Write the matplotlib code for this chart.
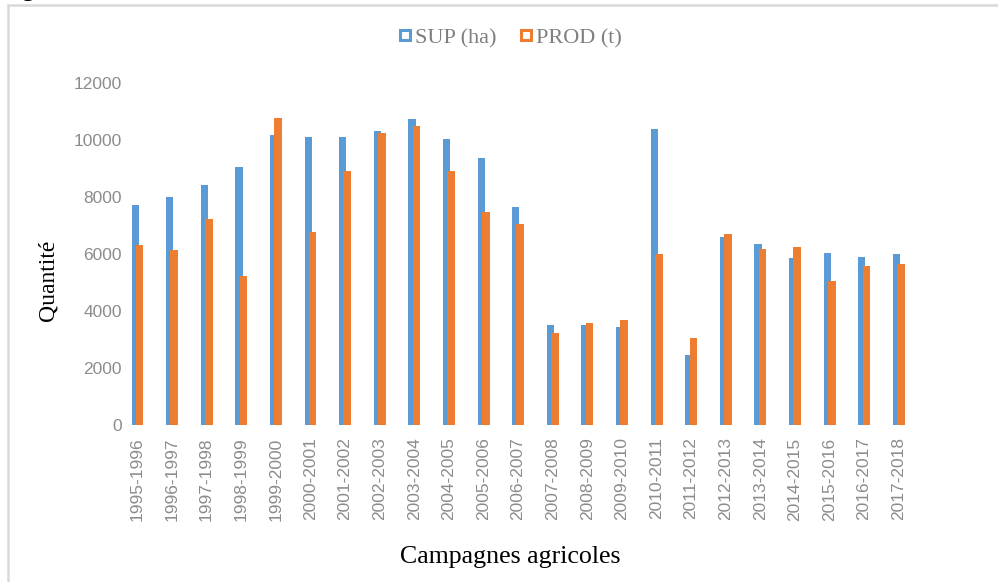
import numpy as np
import matplotlib
matplotlib.use("Agg")
import matplotlib.pyplot as plt
from matplotlib.lines import Line2D
from matplotlib.patches import Rectangle

campagnes = ["1995-1996", "1996-1997", "1997-1998", "1998-1999", "1999-2000",
             "2000-2001", "2001-2002", "2002-2003", "2003-2004", "2004-2005",
             "2005-2006", "2006-2007", "2007-2008", "2008-2009", "2009-2010",
             "2010-2011", "2011-2012", "2012-2013", "2013-2014", "2014-2015",
             "2015-2016", "2016-2017", "2017-2018"]
sup_ha = [7710, 7990, 8440, 9050, 10170, 10100, 10100, 10320, 10740, 10030,
          9390, 7650, 3500, 3500, 3430, 10400, 2450, 6590, 6370, 5880,
          6030, 5910, 5990]
prod_t = [6320, 6130, 7220, 5230, 10780, 6780, 8930, 10250, 10490, 8930,
          7490, 7050, 3230, 3580, 3690, 5990, 3040, 6710, 6180, 6250,
          5050, 5570, 5650]
yticks = [0, 2000, 4000, 6000, 8000, 10000, 12000]

BLUE = "#5B9BD5"
ORANGE = "#ED7D31"
GREY = "#8C8C8C"

W, H = 998, 582
fig = plt.figure(figsize=(W / 100, H / 100), dpi=100)

# axes placed in pixel terms (Excel-like layout)
left_px, right_px = 130, 916
bottom_px, top_px = 425, 83.3
ax = fig.add_axes([left_px / W, 1 - bottom_px / H,
                   (right_px - left_px) / W, (bottom_px - top_px) / H])

x = np.arange(len(campagnes))
ax.bar(x - 0.065, sup_ha, width=0.21, color=BLUE, zorder=2)
ax.bar(x + 0.065, prod_t, width=0.22, color=ORANGE, zorder=3)

ax.set_xlim(-0.214, 22.5)
ax.set_ylim(0, 12000)
ax.set_yticks(yticks)
ax.set_yticklabels([str(v) for v in yticks])
ax.set_xticks(x)
ax.set_xticklabels(campagnes, rotation=90)

for s in ax.spines.values():
    s.set_visible(False)
ax.tick_params(axis="both", length=0, colors=GREY, labelsize=12.5)
ax.tick_params(axis="y", pad=6)
ax.tick_params(axis="x", pad=9)
for lab in ax.get_xticklabels() + ax.get_yticklabels():
    lab.set_fontfamily("Liberation Sans")
    lab.set_color(GREY)

# axis titles
fig.text(48 / W, 1 - 280 / H, "Quantité", family="Liberation Serif", fontsize=17,
         rotation=90, ha="center", va="center", color="black")
fig.text(510 / W, 1 - 557 / H, "Campagnes agricoles", family="Liberation Serif",
         fontsize=18.6, ha="center", va="center", color="black")

handles = [Line2D([], [], ls="none", marker="s", markersize=6.5, markeredgewidth=2.2,
                  markerfacecolor="white", markeredgecolor=BLUE),
           Line2D([], [], ls="none", marker="s", markersize=6.5, markeredgewidth=2.2,
                  markerfacecolor="white", markeredgecolor=ORANGE)]
leg = fig.legend(handles, ["SUP (ha)", "PROD (t)"], loc="center",
                 bbox_to_anchor=(510 / W, 1 - 38 / H), ncol=2, frameon=False,
                 handlelength=0.6, handletextpad=0.15, columnspacing=1.0,
                 prop={"family": "Liberation Serif", "size": 16})
for t in leg.get_texts():
    t.set_color("#7F7F7F")

# chart border and clipped caption letter above it
fig.patches.append(Rectangle((8 / W, -0.1), 1.2, 1.1 - 5 / H, transform=fig.transFigure,
                             fill=False, edgecolor="#D9D9D9", linewidth=1.8))
fig.text(22 / W, 1 + 4 / H, "g", family="Liberation Serif", fontsize=18,
         va="baseline", ha="left", color="black")

fig.savefig("out.png", dpi=100)
